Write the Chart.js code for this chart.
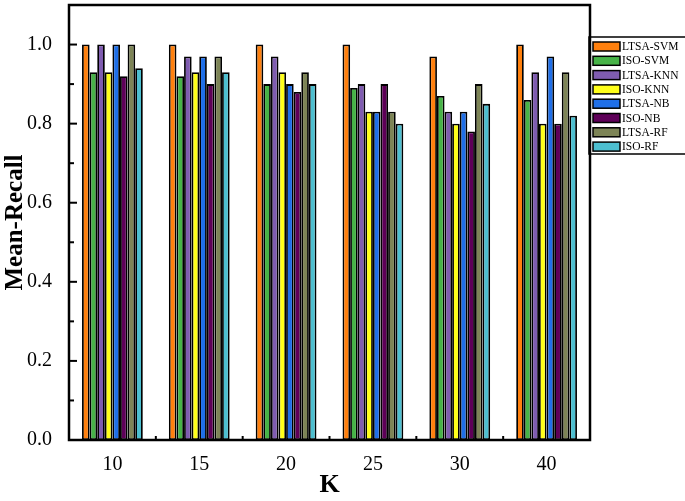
<!DOCTYPE html>
<html>
<head>
<meta charset="utf-8">
<script src="https://cdn.jsdelivr.net/npm/chart.js@4"></script>
<style>
    html, body { margin: 0; padding: 0; background: #fff; overflow: hidden; }
    #wrap { width: 685px; height: 501px; position: relative; }
</style>
</head>
<body>
<div id="wrap"><canvas id="recallChart"></canvas></div>
<script>
const kValues = ["10", "15", "20", "25", "30", "40"];
const seriesNames = ["LTSA-SVM", "ISO-SVM", "LTSA-KNN", "ISO-KNN", "LTSA-NB", "ISO-NB", "LTSA-RF", "ISO-RF"];
const seriesColors = ["#ff800e", "#47b347", "#7f5cb0", "#ffff1a", "#1f6fe8", "#5e0058", "#7d8456", "#4dbfd0"];

const ltsaSvm = [1.00, 1.00, 1.00, 1.00, 0.97, 1.00];
const isoSvm  = [0.93, 0.92, 0.90, 0.89, 0.87, 0.86];
const ltsaKnn = [1.00, 0.97, 0.97, 0.90, 0.83, 0.93];
const isoKnn  = [0.93, 0.93, 0.93, 0.83, 0.80, 0.80];
const ltsaNb  = [1.00, 0.97, 0.90, 0.83, 0.83, 0.97];
const isoNb   = [0.92, 0.90, 0.88, 0.90, 0.78, 0.80];
const ltsaRf  = [1.00, 0.97, 0.93, 0.83, 0.90, 0.93];
const isoRf   = [0.94, 0.93, 0.90, 0.80, 0.85, 0.82];

const seriesValues = [ltsaSvm, isoSvm, ltsaKnn, isoKnn, ltsaNb, isoNb, ltsaRf, isoRf];

const serif = "'Liberation Serif', 'Times New Roman', serif";

// frame, inward ticks and boxed legend
const framePlugin = {
    id: "frame",
    afterDatasetsDraw(chart) {
        const { ctx, chartArea: a, scales: { x, y } } = chart;
        ctx.save();
        ctx.strokeStyle = "#000";
        ctx.lineWidth = 2.5;
        ctx.strokeRect(a.left, a.top, a.right - a.left, a.bottom - a.top);

        ctx.lineWidth = 2;
        y.ticks.forEach(t => {
            if (t.value <= 0 || t.value >= y.max - 1e-6) return;
            const py = y.getPixelForValue(t.value);
            const major = Math.round(t.value * 10) % 2 === 0;
            ctx.beginPath();
            ctx.moveTo(a.left, py);
            ctx.lineTo(a.left + (major ? 8 : 5), py);
            ctx.stroke();
        });
        for (let i = 1; i < kValues.length; i++) {
            const px = (x.getPixelForValue(i - 1) + x.getPixelForValue(i)) / 2;
            ctx.beginPath();
            ctx.moveTo(px, a.bottom);
            ctx.lineTo(px, a.bottom - 4);
            ctx.stroke();
        }

        // legend
        const lx = 589, ly = 37, rowH = 14.3;
        ctx.lineWidth = 1.5;
        ctx.strokeRect(lx, ly, 110, 117);
        ctx.font = "11.5px " + serif;
        ctx.textBaseline = "middle";
        ctx.fillStyle = "#000";
        chart.data.datasets.forEach((ds, i) => {
            const sy = ly + 5 + i * rowH;
            ctx.fillStyle = ds.backgroundColor;
            ctx.fillRect(lx + 4, sy, 27, 9);
            ctx.strokeStyle = "#000";
            ctx.strokeRect(lx + 4, sy, 27, 9);
            ctx.fillStyle = "#000";
            ctx.fillText(ds.label, lx + 33, sy + 5);
        });
        ctx.restore();
    }
};

const ctx = document.getElementById("recallChart");
new Chart(ctx, {
    type: "bar",
    data: {
        labels: kValues,
        datasets: seriesNames.map((name, i) => ({
            label: name,
            data: seriesValues[i],
            backgroundColor: seriesColors[i],
            borderColor: "#000",
            borderWidth: 1.8,
            borderSkipped: false,
            categoryPercentage: 0.7,
            barPercentage: 1.0
        }))
    },
    options: {
        responsive: true,
        maintainAspectRatio: false,
        animation: false,
        layout: { padding: { top: 5, right: 95, left: 0, bottom: 0 } },
        plugins: {
            legend: { display: false },
            tooltip: { enabled: false }
        },
        scales: {
            x: {
                grid: { display: false },
                border: { display: false },
                ticks: { color: "#000", padding: 5, font: { family: serif, size: 20 } },
                title: {
                    display: true, text: "K", color: "#000",
                    font: { family: serif, size: 26, weight: "bold" },
                    padding: { top: -4, bottom: 0 }
                },
                afterFit: s => { s.height = 61; }
            },
            y: {
                min: 0,
                max: 1.1,
                grid: { display: false },
                border: { display: false },
                ticks: {
                    stepSize: 0.1,
                    color: "#000",
                    padding: 9,
                    font: { family: serif, size: 20 },
                    callback: v => {
                        const n = Math.round(v * 10);
                        return (n % 2 === 0 && n <= 10) ? (n / 10).toFixed(1) : "";
                    }
                },
                title: {
                    display: true, text: "Mean-Recall", color: "#000",
                    font: { family: serif, size: 25, weight: "bold" },
                    padding: { top: 1, bottom: 0 }
                },
                afterFit: s => { s.width = 69; s.paddingTop = 0; s.paddingBottom = 0; }
            }
        }
    },
    plugins: [framePlugin]
});
</script>
</body>
</html>
